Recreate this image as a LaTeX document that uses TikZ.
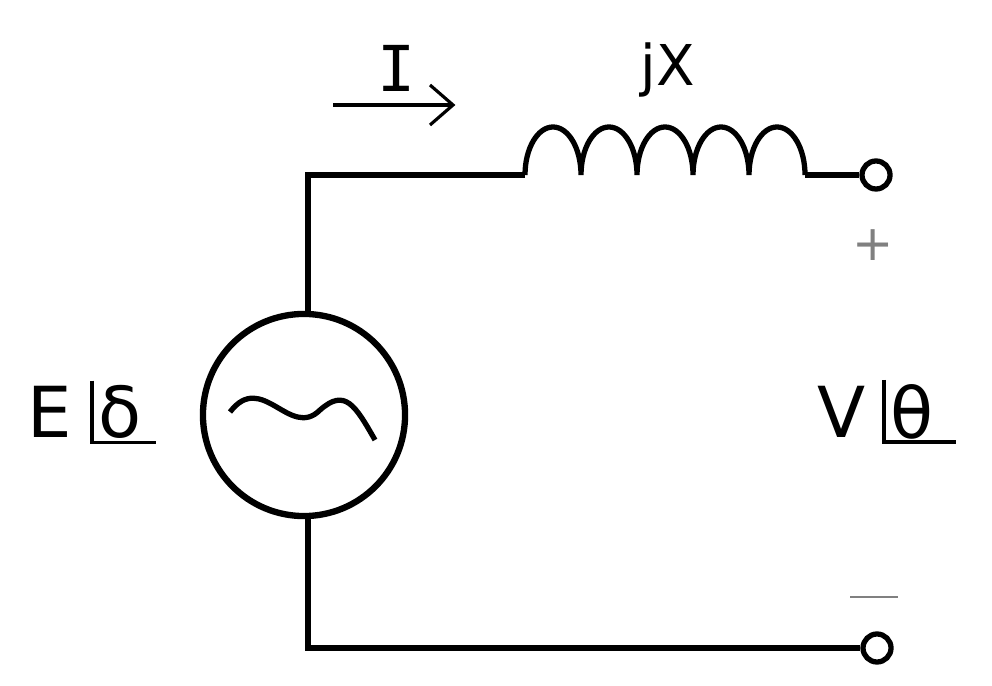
\documentclass[tikz,border=0pt]{standalone}
\usepackage{fontspec}
\setmainfont{DejaVu Sans}
\newfontfamily\monof{DejaVu Sans Mono}
\begin{document}
\begin{tikzpicture}[x=0.01cm,y=-0.01cm,
  wire/.style={line width=1.5pt},
  term/.style={circle,draw,line width=1.5pt,minimum size=0.28cm,inner sep=0pt,fill=white},
  big/.style={font=\fontsize{20}{22}\selectfont,inner sep=0pt},
  mid/.style={font=\fontsize{16}{18}\selectfont,inner sep=0pt}]
\useasboundingbox (0,0) rectangle (992,686);
\node[circle,draw,line width=1.8pt,minimum size=2.02cm,inner sep=0pt] (src) at (304,415) {};
\coordinate (tl) at (308,175);
\coordinate (l1) at (525,175);
\coordinate (l2) at (805,175);
\node[term] (t1) at (876,175) {};
\node[term] (t2) at (877,648) {};
\draw[wire] (src.north) ++(4,0) |- (l1);
\draw[wire] (src.south) ++(4,0) |- (t2.west);
\draw[wire] (l2) -- (t1.west);
\draw[wire] (l1) \foreach \i in {0,...,4} { arc[start angle=180,end angle=0,x radius=28,y radius=-48] };
\draw[line width=1.5pt] (230,412) .. controls (262,370) and (290,440) .. (320,410) .. controls (345,388) and (355,405) .. (375,440);
\node[mid,font=\monof\fontsize{18}{20}\selectfont] (I) at (397,68) {I};
\draw[line width=0.9pt] (333,105) -- (453,105);
\draw[line width=0.9pt] (430,85) -- (453,105) -- (430,125);
\node[mid] (jX) at (668,70) {jX};
\node[font=\fontsize{14}{16}\selectfont,text=gray,inner sep=0pt] (plus) at (873,245) {+};
\draw[gray,line width=0.6pt] (850,597) -- (898,597);
\coordinate (minus) at (873,597);
\node[big] (E) at (50,412) {E};
\node[big,anchor=west] (d) at (98,412) {δ};
\draw[line width=1pt] (d.north west) ++(-6,-4) |- ++(64,62);
\node[big] (V) at (842,412) {V};
\node[big,anchor=west] (th) at (890,412) {θ};
\draw[line width=1pt] (th.north west) ++(-6,-4) |- ++(72,62);
\end{tikzpicture}
\end{document}
